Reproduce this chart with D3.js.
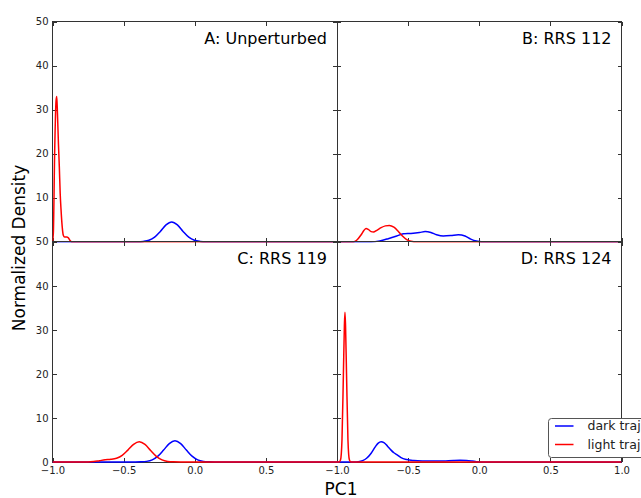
<!DOCTYPE html>
<html><head><meta charset="utf-8">
<script src="https://cdn.jsdelivr.net/npm/d3@7"></script>
<style>html,body{margin:0;padding:0;background:#fff;} svg{display:block;font-family:"DejaVu Sans",sans-serif;}</style>
</head><body><svg id="chart" width="641" height="498"></svg>
<script>
// ---------- data ----------
const xTicks = [-1.0, -0.5, 0.0, 0.5, 1.0];
const yTicks = [0, 10, 20, 30, 40, 50];
const panelTitles = ["A: Unperturbed", "B: RRS 112", "C: RRS 119", "D: RRS 124"];
const seriesNames = ["dark traj", "light traj"];
const seriesColors = ["#0000ff", "#ff0000"];
const xAxisLabel = "PC1";
const yAxisLabel = "Normalized Density";

// [PC1, density]
const darkA = [[-1,0],[-0.40,0],[-0.362,0.08],[-0.322,0.33],[-0.282,1.04],[-0.242,2.34],[-0.202,3.83],[-0.162,4.5],[-0.122,3.83],[-0.082,2.34],[-0.042,1.04],[-0.002,0.33],[0.038,0.08],[0.078,0],[1,0]];
const lightA = [[-1.0,0],[-0.994,2],[-0.985,20],[-0.975,32],[-0.970,33],[-0.965,29],[-0.958,22],[-0.952,17],[-0.946,11],[-0.940,7.3],[-0.932,3.5],[-0.924,1.5],[-0.915,1.1],[-0.900,1.1],[-0.889,0.9],[-0.877,0.3],[-0.865,0],[1.0,0]];

const darkB = [[-1,0],[-0.76,0],[-0.70,0.2],[-0.64,0.7],[-0.58,1.3],[-0.534,1.8],[-0.48,1.9],[-0.42,2.1],[-0.38,2.3],[-0.34,2.1],[-0.30,1.6],[-0.253,1.3],[-0.20,1.4],[-0.147,1.6],[-0.10,1.3],[-0.06,0.6],[-0.02,0.15],[0.0,0.05],[0.03,0],[1,0]];
const lightB = [[-1,0],[-0.885,0],[-0.86,0.4],[-0.83,1.6],[-0.81,2.6],[-0.796,3.0],[-0.78,2.8],[-0.76,2.3],[-0.744,2.2],[-0.72,2.6],[-0.69,3.2],[-0.66,3.6],[-0.632,3.7],[-0.60,3.3],[-0.57,2.4],[-0.54,1.3],[-0.51,0.5],[-0.48,0.1],[-0.46,0],[1,0]];

const darkC = [[-1,0],[-0.42,0],[-0.379,0.03],[-0.339,0.14],[-0.299,0.49],[-0.259,1.33],[-0.219,2.72],[-0.179,4.17],[-0.139,4.8],[-0.099,4.17],[-0.059,2.72],[-0.019,1.33],[0.021,0.49],[0.061,0.14],[0.101,0.03],[0.14,0],[1,0]];
const lightC = [[-1,0],[-0.75,0],[-0.71,0.1],[-0.67,0.3],[-0.63,0.5],[-0.59,0.6],[-0.55,0.85],[-0.51,1.5],[-0.47,2.7],[-0.43,4.0],[-0.39,4.6],[-0.35,3.99],[-0.31,2.6],[-0.27,1.28],[-0.23,0.47],[-0.19,0.13],[-0.15,0.03],[-0.10,0],[1,0]];

const darkD = [[-1,0],[-0.88,0],[-0.85,0.06],[-0.82,0.3],[-0.79,0.9],[-0.76,2.0],[-0.73,3.5],[-0.71,4.3],[-0.69,4.6],[-0.67,4.4],[-0.645,3.6],[-0.62,2.7],[-0.60,2.1],[-0.58,1.7],[-0.55,1.0],[-0.51,0.55],[-0.46,0.32],[-0.40,0.22],[-0.33,0.2],[-0.25,0.25],[-0.18,0.35],[-0.135,0.38],[-0.09,0.33],[-0.05,0.2],[-0.02,0.08],[0.01,0],[1,0]];
const lightD = [[-1,0],[-0.985,0],[-0.975,0.5],[-0.965,5],[-0.955,20],[-0.948,31],[-0.944,34],[-0.940,31],[-0.933,20],[-0.923,5],[-0.913,0.5],[-0.903,0],[1,0]];

const panelDark = [darkA, darkB, darkC, darkD];
const panelLight = [lightA, lightB, lightC, lightD];

// ---------- layout ----------
const plotLeft = 52.5, plotTop = 21.5;
const pw = 284.5, ph = 220.25;
const svg = d3.select("#chart");
const tickColor = "#333";

panelTitles.forEach((title, i) => {
  const col = i % 2, row = Math.floor(i / 2);
  const x0 = plotLeft + col * pw, y0 = plotTop + row * ph;
  const x = d3.scaleLinear().domain([-1, 1]).range([x0, x0 + pw]);
  const y = d3.scaleLinear().domain([0, 50]).range([y0 + ph, y0]);
  const g = svg.append("g");

  // spines
  g.append("rect").attr("x", x0).attr("y", y0).attr("width", pw).attr("height", ph)
    .attr("fill", "none").attr("stroke", tickColor).attr("stroke-width", 1)
    .attr("shape-rendering", "crispEdges");

  // ticks (inward, all sides)
  const mk = (axis, tx, ty, labels) => {
    const a = g.append("g").attr("transform", `translate(${tx},${ty})`).call(axis);
    a.select(".domain").remove();
    a.selectAll("line").attr("stroke", tickColor).attr("shape-rendering", "crispEdges");
    a.selectAll("text").attr("fill", "#222").style("font-size", "10px").style("font-family", "DejaVu Sans");
    if (!labels) a.selectAll("text").remove();
    return a;
  };
  const xfmt = d3.format(".1f");
  const bottomAx = mk(d3.axisBottom(x).tickValues(xTicks).tickSize(-4).tickPadding(5).tickFormat(xfmt), 0, y0 + ph, row === 1);
  if (row === 1 && col === 0) bottomAx.selectAll(".tick").filter(d => d === 1).select("text").remove();
  mk(d3.axisTop(x).tickValues(xTicks).tickSize(-4).tickFormat(""), 0, y0, false);
  const leftAx = mk(d3.axisLeft(y).tickValues(yTicks).tickSize(-4).tickPadding(4).tickFormat(d3.format("d")), x0, 0, col === 0);
  // the top panel's "0" sits under the lower panel's "50"
  if (row === 0 && col === 0) leftAx.selectAll(".tick").filter(d => d === 0).select("text").remove();
  mk(d3.axisRight(y).tickValues(yTicks).tickSize(-4).tickFormat(""), x0 + pw, 0, false);

  // clip
  const cid = "clip" + i;
  svg.append("clipPath").attr("id", cid).append("rect")
    .attr("x", x0).attr("y", y0 - 1).attr("width", pw).attr("height", ph + 2);

  const line = d3.line().x(d => x(d[0])).y(d => y(d[1])).curve(d3.curveMonotoneX);
  [panelDark[i], panelLight[i]].forEach((data, s) => {
    g.append("path").datum(data).attr("d", line).attr("clip-path", `url(#${cid})`)
      .attr("fill", "none").attr("stroke", seriesColors[s]).attr("stroke-width", 1.5)
      .attr("stroke-linejoin", "round");
  });

  g.append("text").attr("x", x0 + pw - 10).attr("y", y0 + 22.5)
    .attr("text-anchor", "end").style("font-size", "16px").attr("fill", "#000").text(title);
});

// axis labels
svg.append("text").attr("transform", "translate(25,248) rotate(-90)")
  .attr("text-anchor", "middle").style("font-size", "17px").attr("fill", "#000").text(yAxisLabel);
svg.append("text").attr("x", 341).attr("y", 495)
  .attr("text-anchor", "middle").style("font-size", "17px").attr("fill", "#000").text(xAxisLabel);

// legend
const lg = svg.append("g");
lg.append("rect").attr("x", 548.5).attr("y", 418.5).attr("width", 110).attr("height", 39).attr("rx", 3)
  .attr("fill", "#fff").attr("stroke", "#555").attr("stroke-width", 1);
seriesNames.forEach((name, s) => {
  const yy = 426 + s * 18.5;
  lg.append("line").attr("x1", 555).attr("x2", 573.5).attr("y1", yy).attr("y2", yy)
    .attr("stroke", seriesColors[s]).attr("stroke-width", 1.5);
  lg.append("text").attr("x", 587.5).attr("y", yy).attr("dy", "0.35em")
    .style("font-size", "12.5px").attr("fill", "#222").text(name);
});
</script></body></html>
